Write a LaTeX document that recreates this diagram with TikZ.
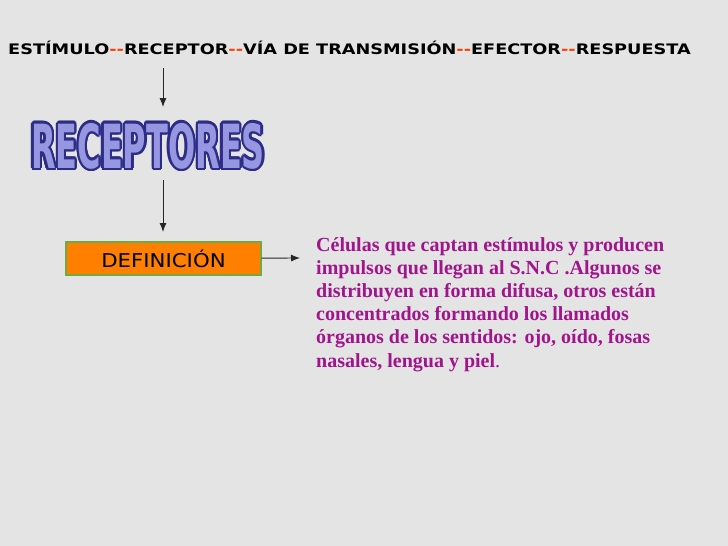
\documentclass[tikz,border=0pt]{standalone}
\usepackage{fontspec}
\setmainfont{Liberation Serif}
\newfontfamily\headfont{DejaVu Sans}
\usepackage{xcolor}
\definecolor{Col1}{RGB}{160,20,140}
\definecolor{Col2}{RGB}{255,60,0}
\definecolor{Col3}{RGB}{255,128,0}
\definecolor{Col4}{RGB}{110,170,70}
\definecolor{Col5}{RGB}{150,150,225}
\definecolor{Col6}{RGB}{45,45,135}
\definecolor{Back}{RGB}{228,228,228}
\usepackage{tikz}
\usetikzlibrary{arrows.meta}
\tikzstyle{Arrow}=[draw=black!85,-{Latex[length=9pt,width=7pt]},line width=0.9pt]
\tikzstyle{NodeHead}=[font=\headfont\bfseries\fontsize{14.5}{16}\selectfont,
anchor=base west,inner sep=0pt]
\tikzstyle{NodeTitle}=[font=\headfont\bfseries\fontsize{32}{36}\selectfont,
inner sep=0pt]
\tikzstyle{NodeBox}=[draw=Col4,line width=1.2pt,fill=Col3,minimum width=195pt,
minimum height=33pt,font=\headfont\fontsize{19}{22}\selectfont]
\tikzstyle{NodeText}=[text=Col1,align=left,anchor=base west,inner sep=0pt,
font=\bfseries\fontsize{20}{23.2}\selectfont]
\newcommand{\Sep}{{\color{Col2}-\kern0pt-}}
\newcommand{\Title}{\scalebox{1}[1.9]{RECEPTORES}}

\begin{document}
\begin{tikzpicture}[x=1pt,y=-1pt]
        \fill[Back](0,0)rectangle(728,546);
        \useasboundingbox(0,0)rectangle(728,546);
        \node[NodeHead](head)at(8,54){\scalebox{1.22}[1]{ESTÍMULO\Sep RECEPTOR\Sep VÍA DE
            TRANSMISIÓN\Sep EFECTOR\Sep RESPUESTA}};
        \foreach \a in {0,20,...,340}
            \node[NodeTitle,text=Col6,shift={(\a:2.2pt)}](o\a)at(148,146){\Title};
        \node[NodeTitle,text=Col5](title)at(148,146){\Title};
        \coordinate(a1)at(163,68);
        \coordinate(a2)at(163,107);
        \coordinate(b1)at(163,180);
        \coordinate(b2)at(163,232);
        \node[NodeBox](def)at(163.5,258.5){\scalebox{1.12}[1]{DEFINICIÓN}};
        \coordinate(c2)at(300,258);
        \node[NodeText](txt)at(316,367){Células que captan estímulos y producen\\
            impulsos que llegan al S.N.C .Algunos se\\
            distribuyen en forma difusa, otros están\\
            concentrados formando los llamados\\
            órganos de los sentidos: ojo, oído, fosas\\
            nasales, lengua y piel{\mdseries .}};
        \draw[Arrow](a1)--(a2);
        \draw[Arrow](b1)--(b2);
        \draw[Arrow](def)--(c2);
    \end{tikzpicture}
\end{document}
